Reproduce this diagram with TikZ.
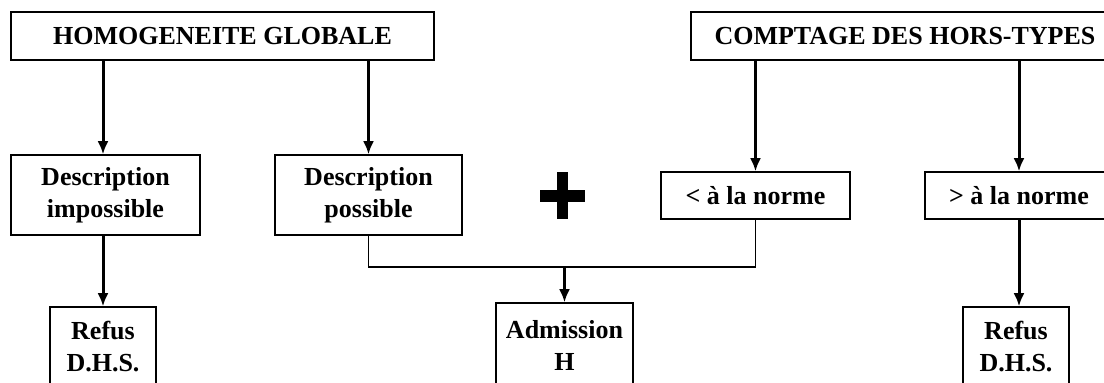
\documentclass[tikz,border=0pt]{standalone}
\usepackage{fontspec}
\setmainfont{Liberation Serif}
\usepackage{tikz}
\usetikzlibrary{arrows.meta}

\tikzset{
  boite/.style={draw, line width=1.5pt, align=center, inner sep=0pt,
    font=\fontsize{26}{32}\selectfont\bfseries},
  fleche/.style={line width=3pt, ->, >={Latex[length=13pt,width=11pt]}},
  trait/.style={line width=1.5pt}
}

\begin{document}
\begin{tikzpicture}[x=1pt,y=1pt]
\useasboundingbox (0,0) rectangle (1104,383);
\clip (0,0) rectangle (1104,383);
\node [boite, minimum width=423pt, minimum height=48pt] (homog) at (222.5,347) {HOMOGENEITE GLOBALE};
\node [boite, minimum width=428pt, minimum height=48pt] (comptage) at (905,347) {COMPTAGE DES HORS-TYPES};
\node [boite, minimum width=189pt, minimum height=80pt] (descimp) at (105.5,188) {Description\\impossible};
\node [boite, minimum width=187pt, minimum height=80pt] (descpos) at (368.5,188) {Description\\possible};
\node [boite, minimum width=189pt, minimum height=47pt] (infnorme) at (755.5,187.5) {< à la norme};
\node [boite, minimum width=188pt, minimum height=47pt] (supnorme) at (1019,187.5) {> à la norme};
\node [boite, minimum width=106pt, minimum height=80pt] (refusA) at (103,36) {Refus\\D.H.S.};
\node [boite, minimum width=137pt, minimum height=84pt] (admis) at (564.5,38) {Admission\\H};
\node [boite, minimum width=106pt, minimum height=80pt] (refusB) at (1016,36) {Refus\\D.H.S.};
\coordinate (jonction) at (368.5,116);
% fleches
\draw [fleche] (homog.south -| refusA) -- (descimp.north -| refusA);
\draw [fleche] (descimp.south -| refusA) -- (refusA.north);
\draw [fleche] (homog.south -| descpos) -- (descpos.north);
\draw [fleche] (comptage.south -| infnorme) -- (infnorme.north);
\draw [fleche] (comptage.south -| supnorme) -- (supnorme.north);
\draw [fleche] (supnorme.south) -- (supnorme.south |- refusB.north);
\draw [trait] (descpos.south) -- (jonction) -| (infnorme.south);
\draw [fleche] (admis.north |- jonction) -- (admis.north);
% signe plus
\fill (540,181) rectangle (585,193);
\fill (557,164) rectangle (568,211);
\end{tikzpicture}
\end{document}
